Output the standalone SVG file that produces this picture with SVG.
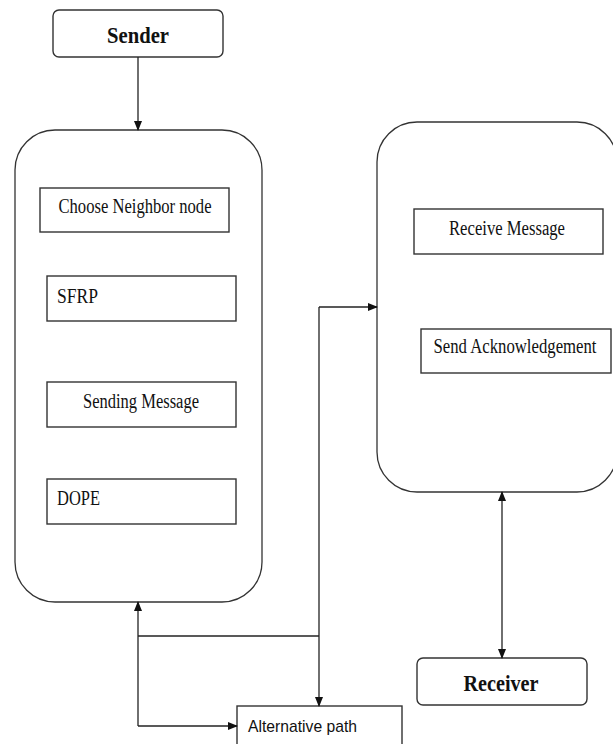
<svg xmlns="http://www.w3.org/2000/svg" width="613" height="744" viewBox="0 0 613 744">
<style>
.box{fill:#fff;stroke:#333;stroke-width:1.4}
.big{fill:#fff;stroke:#333;stroke-width:1.3}
.ser{font-family:"Liberation Serif","Times New Roman",serif;font-size:20px;fill:#111}
.bold{font-family:"Liberation Serif","Times New Roman",serif;font-size:23px;font-weight:bold;fill:#111}
.sans{font-family:"Liberation Sans",Arial,sans-serif;font-size:17px;fill:#111}
.ln{fill:none;stroke:#222;stroke-width:1.3}
</style>
<defs>
<marker id="ah" markerWidth="10" markerHeight="8" refX="9" refY="4" orient="auto-start-reverse" markerUnits="userSpaceOnUse">
<path d="M0,0 L10,4 L0,8 z" fill="#111"/>
</marker>
</defs>
<rect width="613" height="744" fill="#fff"/>
<g id="sender">
<rect class="box" x="53" y="10" width="170" height="47" rx="6"/>
<text class="bold" x="138" y="43" text-anchor="middle" textLength="62" lengthAdjust="spacingAndGlyphs">Sender</text>
</g>
<g id="sender-process">
<rect class="big" x="15" y="130" width="247" height="472" rx="40"/>
</g>
<g id="choose-neighbor">
<rect class="box" x="40" y="188" width="189" height="44"/>
<text class="ser" x="135" y="213" text-anchor="middle" textLength="153" lengthAdjust="spacingAndGlyphs">Choose Neighbor node</text>
</g>
<g id="sfrp">
<rect class="box" x="47" y="276" width="189" height="45"/>
<text class="ser" x="57" y="303" textLength="41" lengthAdjust="spacingAndGlyphs">SFRP</text>
</g>
<g id="sending-message">
<rect class="box" x="47" y="382" width="189" height="45"/>
<text class="ser" x="141" y="408" text-anchor="middle" textLength="116" lengthAdjust="spacingAndGlyphs">Sending Message</text>
</g>
<g id="dope">
<rect class="box" x="47" y="479" width="189" height="45"/>
<text class="ser" x="57" y="505" textLength="43" lengthAdjust="spacingAndGlyphs">DOPE</text>
</g>
<g id="receiver-process">
<rect class="big" x="377" y="122" width="240" height="370" rx="40"/>
</g>
<g id="receive-message">
<rect class="box" x="414" y="209" width="189" height="45"/>
<text class="ser" x="507" y="235" text-anchor="middle" textLength="116" lengthAdjust="spacingAndGlyphs">Receive Message</text>
</g>
<g id="send-ack">
<rect class="box" x="421" y="329" width="190" height="44"/>
<text class="ser" x="515" y="353" text-anchor="middle" textLength="163" lengthAdjust="spacingAndGlyphs">Send Acknowledgement</text>
</g>
<g id="receiver">
<rect class="box" x="417" y="658" width="170" height="47" rx="6"/>
<text class="bold" x="501" y="691" text-anchor="middle" textLength="75" lengthAdjust="spacingAndGlyphs">Receiver</text>
</g>
<g id="alternative-path">
<rect class="box" x="237" y="706" width="165" height="46"/>
<text class="sans" x="248" y="732" textLength="109" lengthAdjust="spacingAndGlyphs">Alternative path</text>
</g>
<g id="connectors">
<line class="ln" x1="138" y1="57" x2="138" y2="130" marker-end="url(#ah)"/>
<line class="ln" x1="502" y1="492" x2="502" y2="658" marker-start="url(#ah)" marker-end="url(#ah)"/>
<polyline class="ln" points="138,636 319,636"/>
<polyline class="ln" points="319,307 319,706" marker-end="url(#ah)"/>
<polyline class="ln" points="319,307 377,307" marker-end="url(#ah)"/>
<polyline class="ln" points="138,726 138,602" marker-end="url(#ah)"/>
<polyline class="ln" points="138,726 237,726" marker-end="url(#ah)"/>
</g>
</svg>
